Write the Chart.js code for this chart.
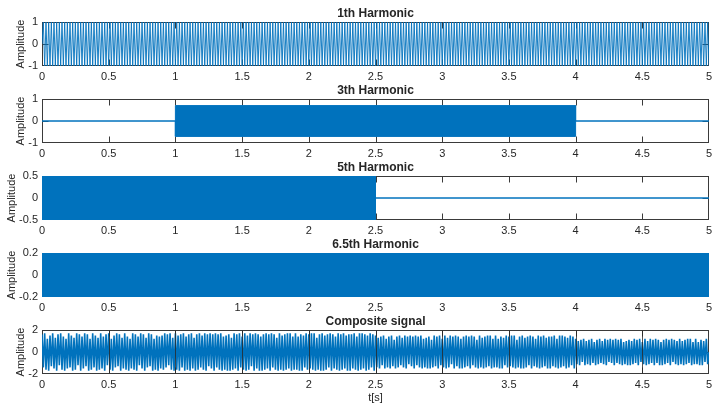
<!DOCTYPE html>
<html>
<head>
<meta charset="utf-8">
<script src="https://cdn.jsdelivr.net/npm/chart.js@4/dist/chart.umd.min.js"></script>
<style>
html,body{margin:0;padding:0;background:#fff;width:713px;height:406px;overflow:hidden;}
canvas{position:absolute;left:0;}
</style>
</head>
<body>
<canvas id="c1" width="713" height="88" style="top:0px"></canvas>
<canvas id="c2" width="713" height="88" style="top:77px"></canvas>
<canvas id="c3" width="713" height="88" style="top:154px"></canvas>
<canvas id="c4" width="713" height="88" style="top:231px"></canvas>
<canvas id="c5" width="713" height="98" style="top:308px"></canvas>
<script>
// ---------------- DATA ----------------
const xTicks = [0, 0.5, 1, 1.5, 2, 2.5, 3, 3.5, 4, 4.5, 5];
const titles = ['1th Harmonic', '3th Harmonic', '5th Harmonic', '6.5th Harmonic', 'Composite signal'];
const yLabel = 'Amplitude';
const xLabel = 't[s]';
const yTicks1 = [-1, 0, 1];
const yTicks2 = [-1, 0, 1];
const yTicks3 = [-0.5, 0, 0.5];
const yTicks4 = [-0.2, 0, 0.2];
const yTicks5 = [-2, 0, 2];

const sampleStep = 0.01; // seconds between successive read peaks

// 1st harmonic: peaks read as +-1, one every 0.01 s
const h1Values = [0,
1,-1,1,-1,1,-1,1,-1,1,-1,1,-1,1,-1,1,-1,1,-1,1,-1,
1,-1,1,-1,1,-1,1,-1,1,-1,1,-1,1,-1,1,-1,1,-1,1,-1,
1,-1,1,-1,1,-1,1,-1,1,-1,1,-1,1,-1,1,-1,1,-1,1,-1,
1,-1,1,-1,1,-1,1,-1,1,-1,1,-1,1,-1,1,-1,1,-1,1,-1,
1,-1,1,-1,1,-1,1,-1,1,-1,1,-1,1,-1,1,-1,1,-1,1,-1,
1,-1,1,-1,1,-1,1,-1,1,-1,1,-1,1,-1,1,-1,1,-1,1,-1,
1,-1,1,-1,1,-1,1,-1,1,-1,1,-1,1,-1,1,-1,1,-1,1,-1,
1,-1,1,-1,1,-1,1,-1,1,-1,1,-1,1,-1,1,-1,1,-1,1,-1,
1,-1,1,-1,1,-1,1,-1,1,-1,1,-1,1,-1,1,-1,1,-1,1,-1,
1,-1,1,-1,1,-1,1,-1,1,-1,1,-1,1,-1,1,-1,1,-1,1,-1,
1,-1,1,-1,1,-1,1,-1,1,-1,1,-1,1,-1,1,-1,1,-1,1,-1,
1,-1,1,-1,1,-1,1,-1,1,-1,1,-1,1,-1,1,-1,1,-1,1,-1,
1,-1,1,-1,1,-1,1,-1,1,-1,1,-1,1,-1,1,-1,1,-1,1,-1,
1,-1,1,-1,1,-1,1,-1,1,-1,1,-1,1,-1,1,-1,1,-1,1,-1,
1,-1,1,-1,1,-1,1,-1,1,-1,1,-1,1,-1,1,-1,1,-1,1,-1,
1,-1,1,-1,1,-1,1,-1,1,-1,1,-1,1,-1,1,-1,1,-1,1,-1,
1,-1,1,-1,1,-1,1,-1,1,-1,1,-1,1,-1,1,-1,1,-1,1,-1,
1,-1,1,-1,1,-1,1,-1,1,-1,1,-1,1,-1,1,-1,1,-1,1,-1,
1,-1,1,-1,1,-1,1,-1,1,-1,1,-1,1,-1,1,-1,1,-1,1,-1,
1,-1,1,-1,1,-1,1,-1,1,-1,1,-1,1,-1,1,-1,1,-1,1,-1,
1,-1,1,-1,1,-1,1,-1,1,-1,1,-1,1,-1,1,-1,1,-1,1,-1,
1,-1,1,-1,1,-1,1,-1,1,-1,1,-1,1,-1,1,-1,1,-1,1,-1,
1,-1,1,-1,1,-1,1,-1,1,-1,1,-1,1,-1,1,-1,1,-1,1,-1,
1,-1,1,-1,1,-1,1,-1,1,-1,1,-1,1,-1,1,-1,1,-1,1,-1,
1,-1,1,-1,1,-1,1,-1,1,-1,1,-1,1,-1,1,-1,1,-1,1,-1
];

// Dense harmonics read as their envelopes (solid bands in the picture)
const h3Times = [0, 1, 1, 4, 4, 5];
const h3Upper = [0, 0, 0.7, 0.7, 0, 0];
const h3Lower = [0, 0, -0.7, -0.7, 0, 0];
const h5Times = [0, 2.5, 2.5, 5];
const h5Upper = [0.5, 0.5, 0, 0];
const h5Lower = [-0.5, -0.5, 0, 0];
const h65Times = [0, 5];
const h65Upper = [0.2, 0.2];
const h65Lower = [-0.2, -0.2];

// Composite signal: peaks read per segment
const compStarts = [0, 1, 2.5, 4];
const compSeg1 = [
1.6,-1.4,1.7,-1.6,1.2,-1.7,1.5,-1.3,1.7,-1.5,
1.3,-1.7,1.6,-1.2,1.7,-1.6,1.4,-1.7,1.2,-1.5,
1.7,-1.4,1.5,-1.7,1.3,-1.6,1.7,-1.2,1.6,-1.7,
1.4,-1.5,1.7,-1.3,1.6,-1.7,1.2,-1.6,1.7,-1.4,
1.5,-1.7,1.3,-1.6,1.7,-1.5,1.4,-1.7,1.6,-1.2,
1.7,-1.6,1.2,-1.7,1.5,-1.4,1.7,-1.3,1.6,-1.7,
1.3,-1.5,1.7,-1.6,1.4,-1.7,1.2,-1.5,1.7,-1.6,
1.6,-1.7,1.4,-1.2,1.7,-1.5,1.6,-1.7,1.3,-1.4,
1.7,-1.3,1.6,-1.7,1.2,-1.6,1.5,-1.7,1.4,-1.5,
1.5,-1.6,1.7,-1.4,1.6,-1.2,1.7,-1.6,1.3,-1.7
];
const compSeg2 = [
1.7,-1.6,1.5,-1.7,1.6,-1.4,1.7,-1.7,1.4,-1.6,
1.6,-1.7,1.7,-1.5,1.3,-1.7,1.6,-1.6,1.7,-1.4,
1.5,-1.6,1.7,-1.7,1.6,-1.3,1.7,-1.5,1.6,-1.7,
1.7,-1.4,1.6,-1.6,1.7,-1.7,1.4,-1.6,1.5,-1.7,
1.6,-1.7,1.3,-1.6,1.7,-1.5,1.6,-1.7,1.7,-1.4,
1.4,-1.6,1.7,-1.7,1.5,-1.6,1.7,-1.3,1.6,-1.7,
1.7,-1.5,1.6,-1.7,1.4,-1.7,1.6,-1.6,1.7,-1.5,
1.6,-1.7,1.7,-1.4,1.6,-1.6,1.3,-1.7,1.7,-1.6,
1.5,-1.7,1.6,-1.6,1.7,-1.5,1.7,-1.7,1.4,-1.6,
1.7,-1.6,1.4,-1.7,1.6,-1.7,1.5,-1.4,1.7,-1.6,
1.6,-1.5,1.7,-1.6,1.7,-1.7,1.3,-1.6,1.6,-1.7,
1.7,-1.7,1.5,-1.6,1.6,-1.4,1.7,-1.7,1.6,-1.5,
1.4,-1.6,1.7,-1.7,1.6,-1.6,1.7,-1.5,1.5,-1.7,
1.6,-1.7,1.6,-1.5,1.7,-1.6,1.4,-1.7,1.7,-1.6,
1.7,-1.5,1.6,-1.7,1.5,-1.6,1.7,-1.4,1.6,-1.7
];
const compSeg3 = [
1.5,-1.4,1.3,-1.5,1.4,-1.2,1.5,-1.5,1.2,-1.4,
1.4,-1.5,1.5,-1.3,1.1,-1.5,1.4,-1.4,1.5,-1.2,
1.3,-1.4,1.5,-1.5,1.4,-1.1,1.5,-1.3,1.4,-1.5,
1.5,-1.2,1.4,-1.4,1.5,-1.5,1.2,-1.4,1.3,-1.5,
1.4,-1.5,1.1,-1.4,1.5,-1.3,1.4,-1.5,1.5,-1.2,
1.2,-1.4,1.5,-1.5,1.3,-1.4,1.5,-1.1,1.4,-1.5,
1.5,-1.3,1.4,-1.5,1.2,-1.5,1.4,-1.4,1.5,-1.3,
1.4,-1.5,1.5,-1.2,1.4,-1.4,1.1,-1.5,1.5,-1.4,
1.3,-1.5,1.4,-1.4,1.5,-1.3,1.5,-1.5,1.2,-1.4,
1.5,-1.4,1.2,-1.5,1.4,-1.5,1.3,-1.2,1.5,-1.4,
1.4,-1.3,1.5,-1.4,1.5,-1.5,1.1,-1.4,1.4,-1.5,
1.5,-1.5,1.3,-1.4,1.4,-1.2,1.5,-1.5,1.4,-1.3,
1.2,-1.4,1.5,-1.5,1.4,-1.4,1.5,-1.3,1.3,-1.5,
1.4,-1.5,1.4,-1.3,1.5,-1.4,1.2,-1.5,1.5,-1.4,
1.5,-1.3,1.4,-1.5,1.3,-1.4,1.5,-1.2,1.4,-1.5
];
const compSeg4 = [
1.2,-1.1,1.0,-1.2,1.1,-0.9,1.2,-1.2,1.0,-1.1,
1.1,-1.2,1.2,-1.0,0.9,-1.2,1.1,-1.1,1.2,-1.0,
1.0,-1.1,1.2,-1.2,1.1,-0.9,1.2,-1.0,1.1,-1.2,
1.2,-1.0,1.1,-1.1,1.2,-1.2,0.9,-1.1,1.0,-1.2,
1.1,-1.2,1.0,-1.1,1.2,-1.0,1.1,-1.2,1.2,-0.9,
0.9,-1.1,1.2,-1.2,1.0,-1.1,1.2,-1.0,1.1,-1.2,
1.2,-1.0,1.1,-1.2,0.9,-1.2,1.1,-1.1,1.2,-1.0,
1.1,-1.2,1.2,-0.9,1.1,-1.1,1.0,-1.2,1.2,-1.1,
1.0,-1.2,1.1,-1.1,1.2,-1.0,1.2,-1.2,0.9,-1.1,
1.2,-1.1,0.9,-1.2,1.1,-1.2,1.0,-0.9,1.2,-1.1,
0
];

// ---------------- STYLE / BUILD ----------------
const BLUE = '#0072BD';
const TEXT = '#262626';
const FONT = '"Liberation Sans", Arial, Helvetica, sans-serif';
Chart.defaults.font.family = FONT;
Chart.defaults.color = TEXT;

const xy = (ts, vs) => ts.map((t, i) => ({x: t, y: vs[i]}));
const sampled = (start, vs) => vs.map((v, i) => ({x: +(start + i * sampleStep).toFixed(4), y: v}));

function matlabAxes(fullLines) {
  return {
    id: 'matlabAxes',
    beforeDatasetsDraw(chart) {
      const {ctx, chartArea: a, scales: {x, y}} = chart;
      const L = Math.round(a.left) + 0.5, R = Math.round(a.right) - 0.5;
      const T = Math.round(a.top) + 0.5, B = Math.round(a.bottom) - 0.5;
      ctx.save();
      ctx.strokeStyle = '#3a3a3a';
      ctx.lineWidth = 1;
      ctx.strokeRect(L, T, R - L, B - T);
      ctx.beginPath();
      x.ticks.forEach(t => {
        let px = Math.round(x.getPixelForValue(t.value)) + 0.5;
        px = Math.min(Math.max(px, L), R);
        ctx.moveTo(px, B); ctx.lineTo(px, B - 6);
        ctx.moveTo(px, T); ctx.lineTo(px, T + 6);
      });
      y.ticks.forEach(t => {
        let py = Math.round(y.getPixelForValue(t.value)) + 0.5;
        py = Math.min(Math.max(py, T), B);
        ctx.moveTo(L, py); ctx.lineTo(L + 6, py);
        ctx.moveTo(R, py); ctx.lineTo(R - 6, py);
      });
      ctx.stroke();
      ctx.restore();
    },
    afterDatasetsDraw(chart) {
      if (!fullLines) return;
      const {ctx, chartArea: a, scales: {x}} = chart;
      const T = Math.round(a.top) + 0.5, B = Math.round(a.bottom) - 0.5;
      ctx.save();
      ctx.strokeStyle = 'rgba(40,40,40,0.8)';
      ctx.lineWidth = 1;
      ctx.beginPath();
      x.ticks.forEach(t => {
        if (t.value <= x.min || t.value >= x.max) return;
        const px = Math.round(x.getPixelForValue(t.value)) + 0.5;
        ctx.moveTo(px, T); ctx.lineTo(px, B);
      });
      ctx.stroke();
      ctx.restore();
    }
  };
}

function makeChart(id, title, datasets, yTicks, opts) {
  const isLast = !!opts.xTitle;
  return new Chart(document.getElementById(id), {
    type: 'line',
    data: {datasets},
    options: {
      responsive: false,
      animation: false,
      devicePixelRatio: 1,
      parsing: false,
      normalized: true,
      layout: {padding: {left: 0, right: 4, top: 0, bottom: 0}},
      elements: {point: {radius: 0}, line: {tension: 0}},
      plugins: {
        legend: {display: false},
        tooltip: {enabled: false},
        title: {
          display: true, text: title, color: TEXT, fullSize: false,
          font: {family: FONT, size: 12, weight: 'bold'},
          padding: {top: 6.2, bottom: 1.4}
        }
      },
      scales: {
        x: {
          type: 'linear', min: xTicks[0], max: xTicks[xTicks.length - 1],
          afterBuildTicks: s => { s.ticks = xTicks.map(v => ({value: v})); },
          afterFit: s => { s.height = isLast ? 32 : 22; },
          grid: {display: false, drawTicks: true, tickLength: 4},
          border: {display: false},
          ticks: {color: TEXT, font: {family: FONT, size: 11}, padding: 0, maxRotation: 0, autoSkip: false,
                  callback: v => String(v)},
          title: {display: isLast, text: xLabel, color: TEXT, font: {family: FONT, size: 11},
                  padding: {top: 0, bottom: 1.4}}
        },
        y: {
          type: 'linear', min: yTicks[0], max: yTicks[yTicks.length - 1],
          afterBuildTicks: s => { s.ticks = yTicks.map(v => ({value: v})); },
          afterFit: s => { s.width = 42; },
          grid: {display: false, drawTicks: false},
          border: {display: false},
          ticks: {color: TEXT, font: {family: FONT, size: 11}, padding: 4, callback: v => String(v)},
          title: {display: true, text: yLabel, color: TEXT, font: {family: FONT, size: 11},
                  padding: {top: opts.yTitlePad, bottom: 0}}
        }
      }
    },
    plugins: [matlabAxes(!!opts.fullLines)]
  });
}

const lineDs = (data, w) => ({data, borderColor: BLUE, borderWidth: w, pointRadius: 0, fill: false});
const bandDs = (upper, lower) => [
  {data: upper, borderColor: BLUE, backgroundColor: BLUE, borderWidth: 1, pointRadius: 0, fill: '+1'},
  {data: lower, borderColor: BLUE, borderWidth: 1, pointRadius: 0, fill: false}
];

makeChart('c1', titles[0], [lineDs(sampled(0, h1Values), 0.9)], yTicks1, {yTitlePad: 14});
makeChart('c2', titles[1], bandDs(xy(h3Times, h3Upper), xy(h3Times, h3Lower)), yTicks2, {yTitlePad: 14});
makeChart('c3', titles[2], bandDs(xy(h5Times, h5Upper), xy(h5Times, h5Lower)), yTicks3, {yTitlePad: 5});
makeChart('c4', titles[3], bandDs(xy(h65Times, h65Upper), xy(h65Times, h65Lower)), yTicks4, {yTitlePad: 5});

const compData = [].concat(
  sampled(compStarts[0], compSeg1),
  sampled(compStarts[1], compSeg2),
  sampled(compStarts[2], compSeg3),
  sampled(compStarts[3], compSeg4)
);
makeChart('c5', titles[4], [lineDs(compData, 1.6)], yTicks5, {xTitle: true, fullLines: true, yTitlePad: 14});
</script>
</body>
</html>
